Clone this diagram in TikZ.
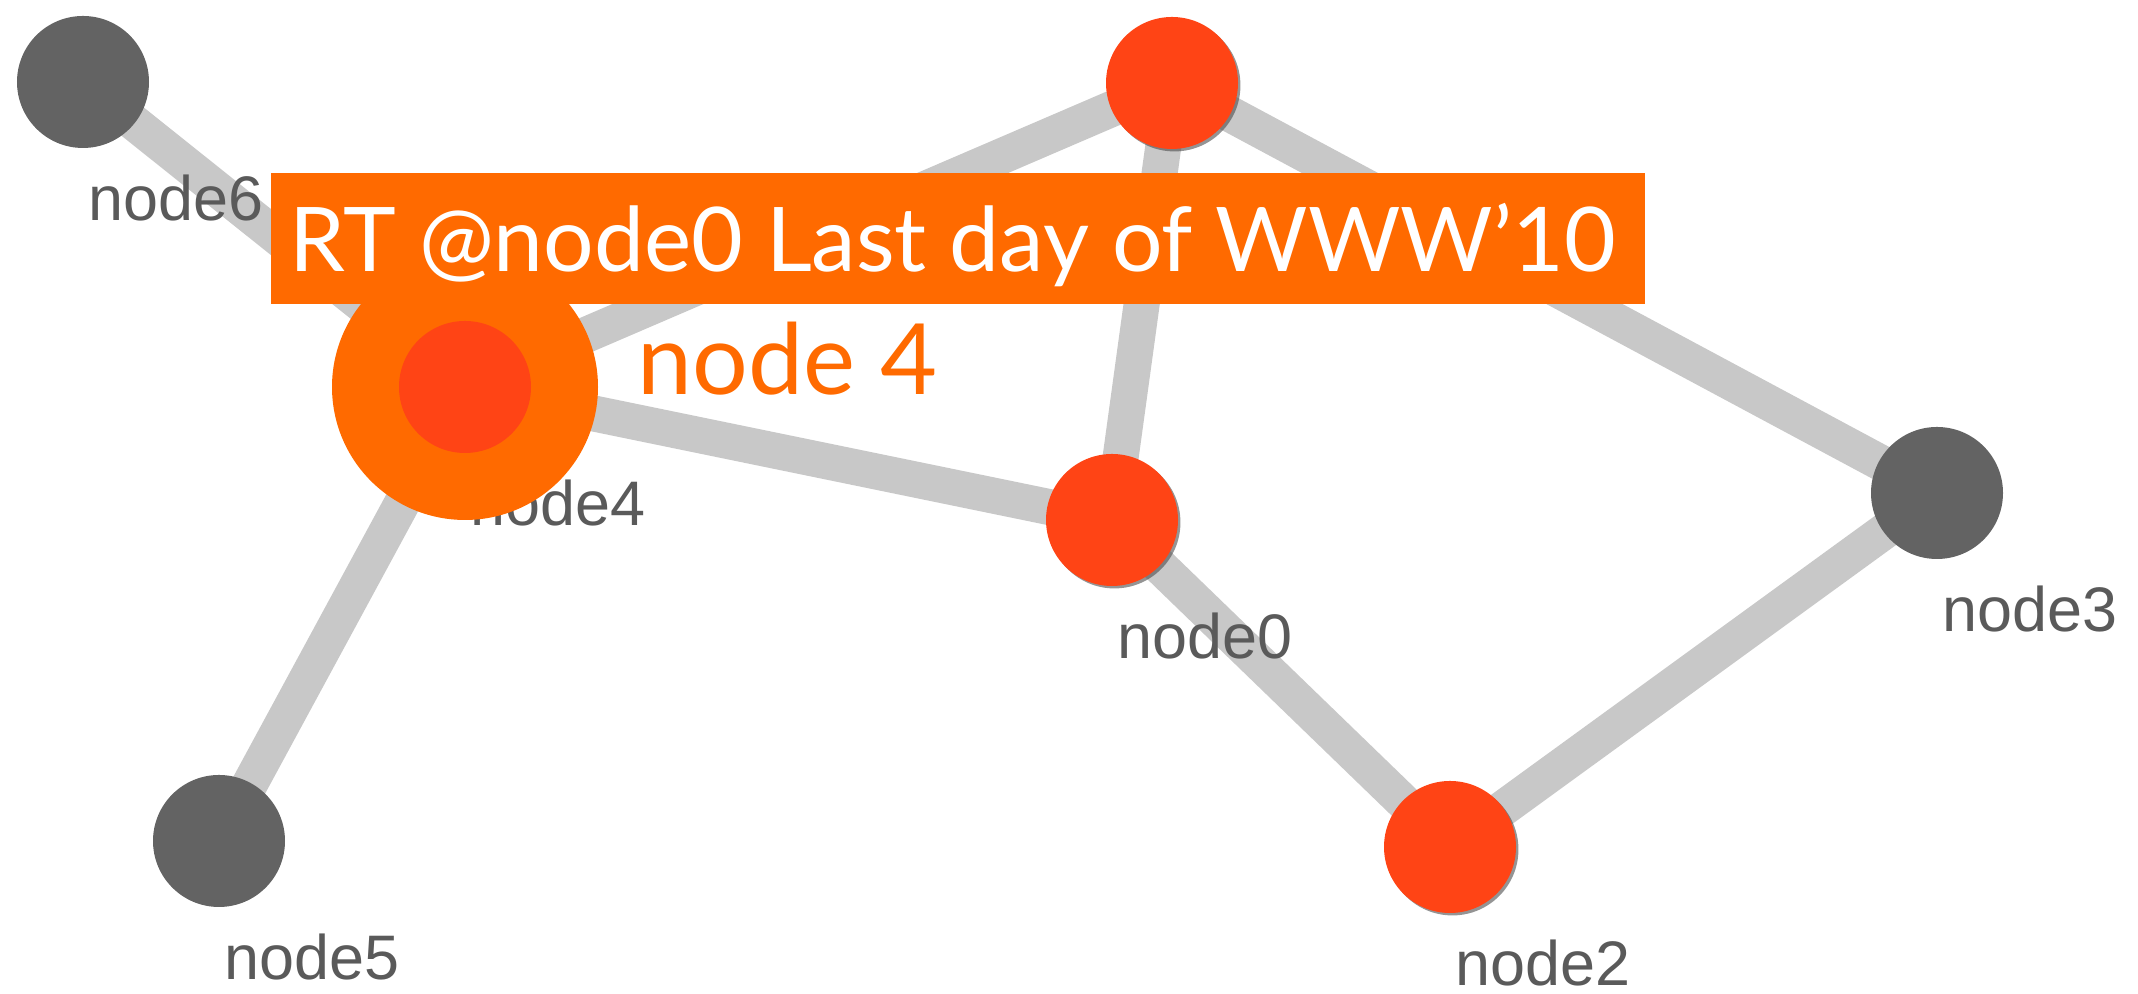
\documentclass[tikz,border=0pt]{standalone}
\usepackage{fontspec}
\usepackage{tikz}
\usetikzlibrary{positioning}
\usetikzlibrary{calc,backgrounds,shadows}
\newfontfamily\tweetfont{Lato}
\newfontfamily\tagfont{Liberation Sans}

\definecolor{hotred}{HTML}{FF4415}
\definecolor{ringorange}{HTML}{FF6A00}
\definecolor{coldgray}{HTML}{636363}
\definecolor{linkgray}{HTML}{C8C8C8}
\definecolor{taggray}{HTML}{5A5A5A}

\tikzset{
	lit/.style={circle, fill=hotred, minimum size=1.32cm, inner sep=0pt},
	hot/.style={lit,
		drop shadow={shadow xshift=0.7pt, shadow yshift=-0.7pt, opacity=0.6, fill=black!70}},
	cold/.style={circle, fill=coldgray, minimum size=1.32cm, inner sep=0pt},
	halo/.style={circle, fill=ringorange, minimum size=2.66cm, inner sep=0pt},
	link/.style={line width=0.36cm, draw=linkgray},
	tag/.style={text=taggray, inner sep=0pt, anchor=base west, font=\tagfont\fontsize{17.9}{20}\selectfont},
	tweet/.style={fill=ringorange, text=white, anchor=north west, inner xsep=0.19cm, inner ysep=0pt,
		text height=0.99cm, text depth=0.32cm,
		font=\tweetfont\fontsize{25.4}{30}\selectfont},
	focus/.style={text=ringorange, inner sep=0pt, anchor=base west, font=\tweetfont\fontsize{28}{32}\selectfont}
}

\begin{document}
\begin{tikzpicture}
	
	\useasboundingbox (0,0) rectangle (21.38,9.94);
	
	% the seven accounts, orange ones have retweeted
	\node[hot]  (node0) at (11.12,4.74) {};
	\node[hot]  (node1) at (11.72,9.11) {};
	\node[hot]  (node2) at (14.50,1.47) {};
	\node[cold] (node3) at (19.37,5.01) {};
	\node[lit]  (node4) at (4.65,6.07) {};
	\node[cold] (node5) at (2.19,1.53) {};
	\node[cold] (node6) at (0.83,9.12) {};
	
	%%%%%%%%%%%%%%%%%%%%%%%%%%%%%%%%%%%%%%%%%%%%%%%%%%%%%%%%%%%%%%
	\begin{scope}[on background layer]
		
		% follower links
		\foreach \a/\b in {node6/node4, node4/node1, node4/node0, node4/node5,
			node1/node0, node1/node3, node0/node2, node2/node3}
			\draw[link] (\a.center) -- (\b.center);
		
		% names below the dots (node1's sits under the tweet)
		\foreach \i in {0,2,3,4,5,6}
			\node[tag] (tag\i) at ($(node\i.center)+(0.05,-1.39)$) {node\i};
		
		\node[halo] (ring4) at (node4.center) {};
		
	\end{scope}
	
	% the retweet being shown
	\node[tweet] (msg) at (2.70,8.22) {\makebox[13.36cm][l]{RT @node0 Last day of WWW’10}};
	\node[focus] (name4) at (6.37,5.99) {node 4};
	
\end{tikzpicture}
\end{document}
